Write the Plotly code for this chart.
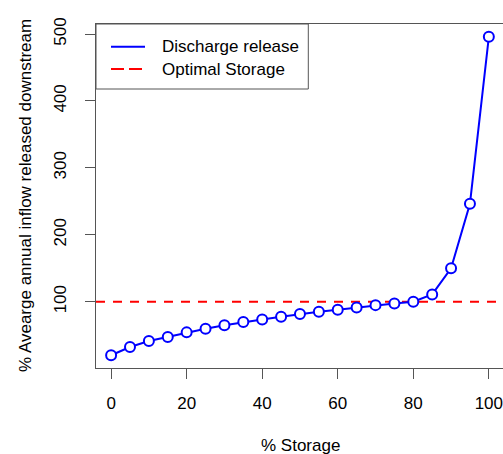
import plotly.graph_objects as go

# Reservoir storage level (%) and resulting downstream release (% of average annual inflow)
storage_pct = [0, 5, 10, 15, 20, 25, 30, 35, 40, 45, 50,
               55, 60, 65, 70, 75, 80, 85, 90, 95, 100]
release_pct = [20, 32.4, 41.3, 47.3, 54.2, 59.7, 64.7, 69.6, 73.6, 77.6, 81.5,
               85.1, 88.1, 91.5, 94.9, 97.5, 100, 110.9, 150, 246.5, 495.8]
optimal_level = 100

x_ticks = [0, 20, 40, 60, 80, 100]
y_ticks = [100, 200, 300, 400, 500]
legend_labels = ["Discharge release", "Optimal Storage"]

FONT = "Liberation Sans, Arial, sans-serif"
AXIS_COL = "#555555"
BLUE = "#0000FF"
RED = "#FF0000"

W, H = 503, 454
ML, MR, MT, MB = 96, 0, 24, 86
PW, PH = W - ML - MR, H - MT - MB


def px_x(px):
    return (px - ML) / PW


def px_y(py):
    return (H - MB - py) / PH


fig = go.Figure()

# optimal storage reference line
fig.add_trace(go.Scatter(
    x=[-4, 104], y=[optimal_level, optimal_level], mode="lines",
    line=dict(color=RED, width=2, dash="9px,8px"),
    hoverinfo="skip", showlegend=False,
))

# discharge release curve
fig.add_trace(go.Scatter(
    x=storage_pct, y=release_pct, mode="lines+markers",
    line=dict(color=BLUE, width=2),
    marker=dict(symbol="circle", size=10, color="white",
                line=dict(color=BLUE, width=2)),
    showlegend=False, cliponaxis=False,
))

shapes = [
    # legend box
    dict(type="rect", xref="paper", yref="paper",
         x0=0, x1=px_x(308.3), y0=px_y(89), y1=1,
         line=dict(color=AXIS_COL, width=1), fillcolor="white", layer="above"),
    dict(type="line", xref="paper", yref="paper",
         x0=px_x(111), x1=px_x(145), y0=px_y(46.7), y1=px_y(46.7),
         line=dict(color=BLUE, width=2), layer="above"),
    dict(type="line", xref="paper", yref="paper",
         x0=px_x(111), x1=px_x(145), y0=px_y(69), y1=px_y(69),
         line=dict(color=RED, width=2, dash="13px,5px"), layer="above"),
]

annotations = [
    dict(text=legend_labels[0], xref="paper", yref="paper",
         x=px_x(160), y=px_y(46.7), xanchor="left", yanchor="middle",
         showarrow=False, font=dict(family=FONT, size=17, color="black")),
    dict(text=legend_labels[1], xref="paper", yref="paper",
         x=px_x(160), y=px_y(69), xanchor="left", yanchor="middle",
         showarrow=False, font=dict(family=FONT, size=17, color="black")),
    dict(text="% Storage", xref="paper", yref="paper",
         x=px_x(300), y=px_y(445), xanchor="center", yanchor="middle",
         showarrow=False, font=dict(family=FONT, size=17, color="black")),
    dict(text="% Avearge annual inflow released downstream",
         xref="paper", yref="paper", textangle=-90,
         x=px_x(25), y=px_y(196), xanchor="center", yanchor="middle",
         showarrow=False, font=dict(family=FONT, size=17, color="black")),
]

fig.update_layout(
    width=W, height=H,
    margin=dict(l=ML, r=MR, t=MT, b=MB, pad=0),
    paper_bgcolor="white", plot_bgcolor="white",
    font=dict(family=FONT, size=17, color="black"),
    shapes=shapes, annotations=annotations,
    xaxis=dict(range=[-4, 103.75], tickvals=x_ticks, ticks="outside",
               ticklen=10, tickwidth=1, tickcolor=AXIS_COL,
               showline=True, linecolor=AXIS_COL, linewidth=1, mirror=True,
               showgrid=False, zeroline=False, ticklabelstandoff=10,
               ticklabeloverflow="allow"),
    yaxis=dict(range=[0.96, 515], tickvals=y_ticks, ticks="outside",
               ticklen=10, tickwidth=1, tickcolor=AXIS_COL, tickangle=-90,
               showline=True, linecolor=AXIS_COL, linewidth=1, mirror=False,
               showgrid=False, zeroline=False, ticklabelstandoff=12,
               ticklabeloverflow="allow"),
)

fig.write_html("out.html")
